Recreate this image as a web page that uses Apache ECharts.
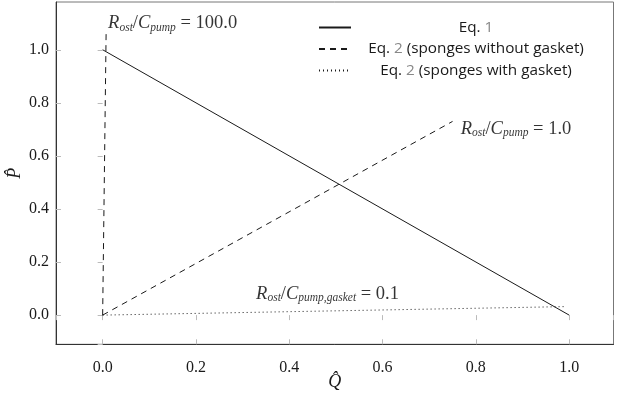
<!DOCTYPE html>
<html>
<head>
<meta charset="utf-8">
<script src="https://cdn.jsdelivr.net/npm/echarts@6/dist/echarts.min.js"></script>
<style>
  html, body { margin: 0; padding: 0; background: #fff; }
  #chart { width: 617px; height: 393px; }
</style>
</head>
<body>
<div id="chart"></div>
<script>
// legend entries
const eqNames = ['Eq. 1', 'Eq. 2 (sponges without gasket)', 'Eq. 2 (sponges with gasket)'];
const eqNums = ['1', '2', '2'];
const eqTails = ['', ' (sponges without gasket)', ' (sponges with gasket)'];

// Eq. 1 : straight line
const eq1Q = [0, 1];
const eq1P = [1, 0];
// Eq. 2, R/C = 100
const hiQ = [0, 0.0075];
const hiP = [0, 1.075];
// Eq. 2, R/C = 1
const unitQ = [0, 0.75];
const unitP = [0, 0.73];
// Eq. 2 with gasket, R/C = 0.1
const gasketQ = [0, 0.99];
const gasketP = [0, 0.032];

// annotations
const noteQ = [0.150, 0.886, 0.482];
const noteP = [1.10, 0.702, 0.08];
const noteSub = ['pump', 'pump', 'pump,gasket'];
const noteVal = ['100.0', '1.0', '0.1'];

const pairs = (qs, ps) => qs.map((q, i) => [q, ps[i]]);

const serif = 'Liberation Serif';
const sans = 'Open Sans';
const ink = '#1a1a1a';

const mathRich = {
  R: { fontFamily: serif, fontStyle: 'italic', fontSize: 18.5, lineHeight: 21, color: '#000' },
  s: { fontFamily: serif, fontStyle: 'italic', fontSize: 11.5, lineHeight: 9, verticalAlign: 'bottom', color: '#000' },
  u: { fontFamily: serif, fontSize: 18.5, lineHeight: 21, color: '#000' }
};

const chart = echarts.init(document.getElementById('chart'));

const axisFont = { fontFamily: serif, fontSize: 16, color: ink };
const tickStyle = { show: true, inside: true, length: 5, lineStyle: { color: '#bbb' } };

const option = {
  animation: false,
  backgroundColor: '#fff',
  grid: {
    left: 56, right: 3.5, top: 2, bottom: 48.7,
    outerBoundsMode: 'none', containLabel: false,
    show: true, borderColor: '#777', borderWidth: 1
  },
  legend: {
    data: eqNames,
    orient: 'vertical',
    left: 313, top: 15,
    itemWidth: 32, itemHeight: 16, itemGap: 6.5,
    itemStyle: { color: 'transparent', borderWidth: 0 },
    formatter: name => {
      const i = eqNames.indexOf(name);
      return '{t|Eq. }{g|' + eqNums[i] + '}' + (eqTails[i] ? '{t|' + eqTails[i] + '}' : '');
    },
    textStyle: {
      width: 240,
      fontFamily: sans, fontSize: 15.3,
      rich: {
        t: { align: 'center', fontFamily: sans, fontSize: 15.3, lineHeight: 16, color: ink },
        g: { align: 'center', fontFamily: sans, fontSize: 15.3, lineHeight: 16, color: '#888' }
      }
    }
  },
  xAxis: [{
    type: 'value', min: -0.1, max: 1.095, splitNumber: 5, minInterval: 0.2, maxInterval: 0.2,
    position: 'bottom',
    name: 'Q\u0302', nameLocation: 'middle', nameGap: 29, nameMoveOverlap: false,
    nameTextStyle: { fontFamily: serif, fontStyle: 'italic', fontSize: 18, color: ink },
    axisLine: { show: true, onZero: false, lineStyle: { color: '#333', width: 1 } },
    axisTick: tickStyle,
    axisLabel: Object.assign({ margin: 15, showMinLabel: false, showMaxLabel: false,
      formatter: v => v.toFixed(1) }, axisFont),
    splitLine: { show: false }
  }, {
    type: 'value', min: -0.1, max: 1.095, splitNumber: 5, minInterval: 0.2, maxInterval: 0.2,
    position: 'top',
    axisLine: { show: false },
    axisTick: tickStyle,
    axisLabel: { show: false },
    splitLine: { show: false }
  }],
  yAxis: [{
    type: 'value', min: -0.11, max: 1.18, splitNumber: 6, minInterval: 0.2, maxInterval: 0.2,
    position: 'left',
    name: 'P\u0302', nameLocation: 'middle', nameGap: 32, nameMoveOverlap: false,
    nameTextStyle: { fontFamily: serif, fontStyle: 'italic', fontSize: 18, color: ink },
    axisLine: { show: true, onZero: false, lineStyle: { color: '#333', width: 1 } },
    axisTick: tickStyle,
    axisLabel: Object.assign({ margin: 7, showMinLabel: false, showMaxLabel: false,
      formatter: v => v.toFixed(1) }, axisFont),
    splitLine: { show: false }
  }, {
    type: 'value', min: -0.11, max: 1.18, splitNumber: 6, minInterval: 0.2, maxInterval: 0.2,
    position: 'right',
    axisLine: { show: false },
    axisTick: tickStyle,
    axisLabel: { show: false },
    splitLine: { show: false }
  }],
  series: [
    {
      name: eqNames[0], type: 'line', symbol: 'none',
      data: pairs(eq1Q, eq1P),
      lineStyle: { color: ink, width: 1, type: 'solid' },
      itemStyle: { color: ink }
    },
    {
      name: eqNames[1], type: 'line', symbol: 'none',
      data: pairs(hiQ, hiP),
      lineStyle: { color: ink, width: 1, type: [6, 5] },
      itemStyle: { color: ink }
    },
    {
      name: eqNames[1], type: 'line', symbol: 'none',
      data: pairs(unitQ, unitP),
      lineStyle: { color: ink, width: 1, type: [6, 5] },
      itemStyle: { color: ink }
    },
    {
      name: eqNames[2], type: 'line', symbol: 'none',
      data: pairs(gasketQ, gasketP),
      lineStyle: { color: ink, width: 1, type: [1, 3] },
      itemStyle: { color: ink }
    },
    {
      name: 'notes', type: 'scatter', symbolSize: 0, silent: true, z: 10,
      data: noteQ.map((q, i) => ({
        value: [q, noteP[i]],
        label: {
          show: true, position: 'inside', color: '#000',
          formatter: '{R|R}{s|ost}{u|/}{R|C}{s|' + noteSub[i] + '}{u| = ' + noteVal[i] + '}',
          rich: mathRich
        }
      }))
    }
  ]
};

chart.setOption(option);
</script>
</body>
</html>
